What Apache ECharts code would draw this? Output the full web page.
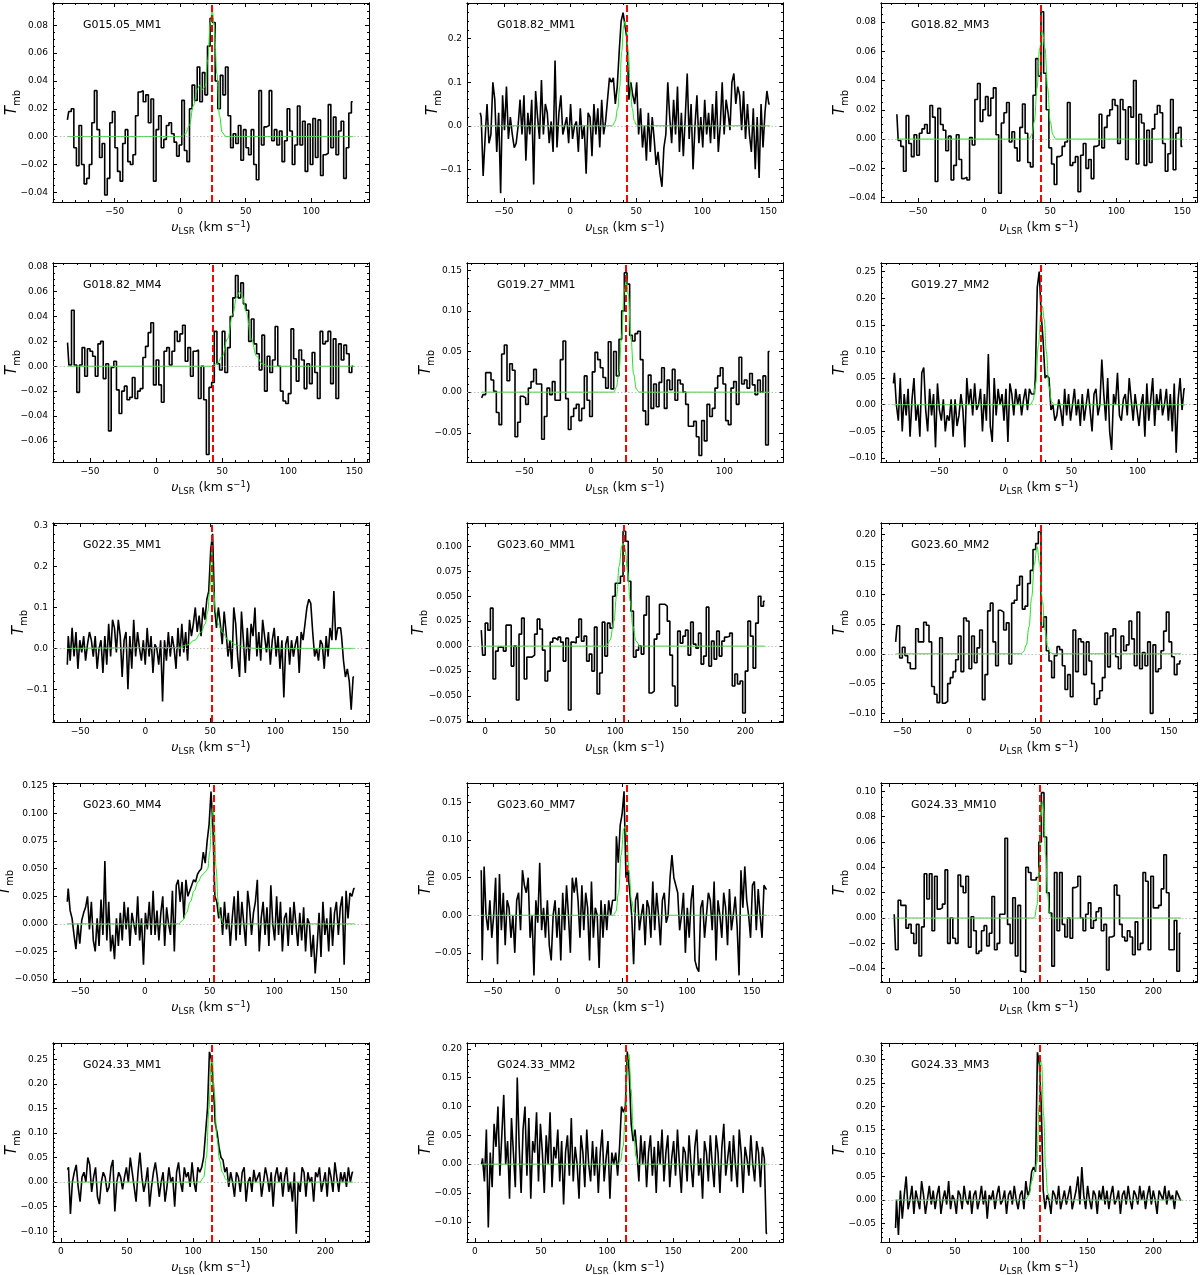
<!DOCTYPE html>
<html><head><meta charset="utf-8">
<script src="https://cdn.jsdelivr.net/npm/echarts@6/dist/echarts.min.js"></script>
<style>html,body{margin:0;padding:0;background:#fff}#c{width:1200px;height:1275px}</style>
</head><body><div id="c"></div><script>
// ---------- data ----------
const names = ['G015.05_MM1','G018.82_MM1','G018.82_MM3','G018.82_MM4','G019.27_MM1','G019.27_MM2',
  'G022.35_MM1','G023.60_MM1','G023.60_MM2','G023.60_MM4','G023.60_MM7','G024.33_MM10',
  'G024.33_MM1','G024.33_MM2','G024.33_MM3'];
// first channel velocity and channel width (km/s)
const vStart = [-86,-68,-66,-67,-82,-84.6,-60,-3,-55,-60,-59,4,5,5,5];
const dV = [1.96,1.47,2,2,2,1.48,1.48,2,2,1.49,1.48,1.97,1.46,1.46,1.46];
const vSys = [24.4,42.5,42.5,42.5,26,26.5,51,106.5,53.5,53,53,114,114,114,114];

const T1 = [.012,.018,.02,-.008,-.021,.008,-.02,-.034,-.03,-.02, .01,.033,.005,-.015,-.005,-.042,-.03,.01,.018,-.008,
 -.025,-.032,-.005,.005,-.018,-.02,-.013,.015,.032,.033, .025,.03,.01,.027,-.032,.005,.015,-.008,-.002,.008,
 .01,.002,-.004,-.014,-.006,.026,-.01,-.018,.02,.037, .026,.05,.025,.046,.03,.065,.085,.082,.04,.02,
 .044,.03,.05,.015,-.008,.002,-.005,.008,-.017,.005, -.008,-.013,.005,-.02,-.031,.033,-.006,.007,.008,.033,
 -.003,.005,-.006,.004,-.018,-.003,.02,.004,-.02,-.006, .022,-.006,.011,-.025,.009,-.02,.013,-.015,.012,-.028,
 -.013,-.012,.023,-.008,.014,-.013,.004,.011,-.03,-.008, .017,.025];
const T2 = [.03,.02,-.115,-.03,.05,-.04,-.02,.1,.06,-.06, .03,-.155,.07,-.01,.09,-.03,.02,-.02,-.05,-.04,
 .0,.06,-.02,.07,-.08,.03,-.02,.06,-.135,.08, .02,-.03,.105,-.02,.05,.03,-.04,.01,-.06,.15,
 -.05,.03,.07,-.02,.0,.02,-.04,.05,-.03,.0, .01,-.06,.04,-.03,.0,-.11,.03,.02,-.07,.05,
 -.02,.04,-.05,.06,-.02,.01,.06,.11,.1,.11, .05,.09,.17,.24,.26,.23,.2,.06,.1,.07,
 .05,.1,-.02,.04,-.05,.0,-.08,.03,-.06,.02, -.03,-.09,-.06,-.11,-.14,-.05,-.02,.1,.02,-.04,
 .06,-.02,.09,-.06,.03,-.07,.02,.12,-.03,.05, -.1,.0,.07,-.04,.02,-.05,.06,-.02,.03,-.04,
 .05,-.03,.08,-.06,.0,.1,-.02,.06,.03,-.01, .1,.12,.05,.09,.07,-.01,.08,-.03,.05,-.02,
 -.06,.04,-.1,.02,-.12,.05,-.05,.03,.08,.05];
const T3 = [.017,-.001,-.005,-.022,.016,-.003,-.012,.003,-.011,.004, .007,.01,.004,.023,.015,-.029,.021,.01,.006,-.008,
 .002,-.028,-.018,.003,-.014,-.027,-.026,-.028,.001,-.004, .027,.038,.012,.02,.029,.016,.028,.035,.003,-.037,
 .011,.018,.025,-.002,.005,-.006,-.015,.008,.024,.004, -.016,-.019,.03,.055,.043,.087,.045,.02,-.006,-.017,
 -.031,-.012,-.011,-.005,-.002,.025,-.018,-.016,-.012,-.036, -.011,-.003,-.02,-.014,-.027,-.005,-.004,.017,-.006,.008,
 .016,.02,.027,.023,-.003,.027,.02,-.014,.022,.015, .04,-.017,.017,.011,-.018,.006,-.016,.007,.017,.023,
 .018,-.003,-.022,-.01,.027,-.021,.004,.008,-.005];
const T4 = [.019,.001,.045,.001,-.021,.001,.015,-.008,.014,.012, .008,-.008,.018,.02,-.01,.002,-.052,-.001,.004,-.019,
 -.038,-.02,-.016,-.027,-.025,-.009,-.026,-.02,-.018,.007, .016,.027,.035,-.015,.005,-.015,-.029,.012,.015,.001,
 .012,.028,.02,.026,.033,.004,.015,-.008,.012,.013, -.026,.0,-.027,-.071,-.017,-.013,.028,.002,-.003,.028,
 -.005,.015,.04,.055,.073,.055,.067,.05,.045,.02, .038,.018,.01,-.003,.025,-.02,.008,-.005,.005,.032,
 .0,-.02,-.028,-.03,-.022,.03,.006,-.012,.013,.005, -.018,.002,-.014,.011,-.005,-.026,.028,.018,.02,.028,
 -.014,.022,-.026,.018,.005,.017,.01,-.005,.0];
const T5 = [-.007,-.003,.024,.024,.015,.001,-.025,-.04,.047,.058, .014,.035,.027,-.055,-.037,-.005,-.007,-.015,.005,.013,
 .028,.01,.01,-.058,-.03,.005,-.003,.013,-.01,-.01, .04,.063,-.008,-.046,-.03,-.02,-.015,-.035,-.02,.02,
 -.01,-.03,.025,.049,.04,.03,.018,.005,.062,.004, .05,.02,.065,.1,.147,.133,.07,.063,.072,.075,
 .04,-.023,-.04,.021,-.02,.01,-.018,.012,.03,-.02, .015,.003,.028,-.01,.015,.01,.0,-.015,-.042,-.042,
 -.036,-.055,-.078,-.035,-.06,-.015,-.03,-.02,.005,.02, .03,.01,-.035,-.04,.005,.013,-.015,.043,.01,.015,
 .005,.023,.009,-.003,.015,.0,.02,-.065,.05];
const T6 = [.04,.06,.0,-.03,.05,-.05,.02,-.02,.03,-.06, .01,.05,-.03,.0,-.06,.06,.07,-.01,-.05,.03,
 -.02,.02,-.08,.04,-.01,-.03,.01,-.05,-.02,-.03, .01,-.06,.01,-.04,-.02,.02,-.01,-.08,.05,.0,
 .03,-.02,.04,-.01,.0,.03,-.05,.02,-.03,.095, -.04,-.07,.05,-.02,.03,.0,.02,-.03,.03,-.07,
 .04,.02,-.02,.03,.0,.02,-.02,.01,.03,-.01, .03,.02,.02,.05,.22,.25,.17,.12,.05,.055,
 .05,-.01,.0,-.03,-.02,.01,-.01,-.04,.03,-.02, .02,-.03,.0,.03,-.02,.01,-.04,.02,-.03,.0,
 .03,-.01,-.05,.02,.03,-.02,.0,.085,.02,-.03, .05,-.05,-.085,.02,.0,.06,-.02,-.03,.01,.02,
 -.02,.05,.01,-.03,.02,-.01,-.04,.0,.02,-.06, .04,-.03,.01,.05,-.04,.02,-.01,.03,-.02,.0,
 .03,-.03,.02,-.05,.04,-.09,.01,.05,-.01,.03];
const T7 = [-.04,.03,-.03,.05,-.02,.04,-.05,.02,-.01,.03, -.03,.01,.04,.02,-.02,.03,-.05,.0,.02,-.06,
 .03,-.04,.06,-.02,.07,.05,-.01,.07,.03,-.07, .02,.04,-.1,.03,-.05,.07,-.02,.04,.0,-.03,
 .02,-.04,.05,-.02,.03,-.06,.01,.0,-.04,.02, -.13,.02,-.03,.04,-.02,.03,.0,-.05,.05,-.02,
 .06,-.01,.04,-.03,.07,.03,.06,.1,.04,.08, .03,.1,.07,.12,.14,.24,.28,.1,.05,.1,
 .06,.01,.09,.04,-.02,.02,-.05,.1,.06,-.02, -.07,.09,.02,-.06,.05,-.03,.06,.03,.1,-.02,
 .04,-.03,.07,.03,-.01,.04,-.04,.02,.05,-.02, .03,-.05,.02,-.12,.01,.03,-.04,.02,-.02,.01,
 .03,-.06,.04,.02,.06,.1,.12,.11,.04,-.02, .0,-.03,.02,.01,-.05,.03,-.02,.05,.02,.14,
 .02,.05,.05,.03,-.03,-.07,-.05,-.08,-.15,-.07];
const T8 = [.016,-.009,.023,.016,.038,-.033,-.005,-.001,-.001,-.005, .021,.021,-.02,.0,-.054,.012,.028,-.033,-.011,-.011,
 -.009,.012,.027,.017,-.004,-.035,-.025,.004,.008,.006, .009,.004,-.015,.008,-.064,.004,.003,.009,.027,.005,
 .01,-.015,-.008,-.025,.019,-.048,-.027,.024,-.01,.023, .018,.05,.063,.063,.07,.115,.105,.065,.035,-.011,
 -.004,.0,-.008,.031,.05,-.047,-.045,.007,.012,.042, .042,.04,.025,-.009,-.04,-.06,.015,.003,.01,.016,
 -.009,.024,.002,-.002,.013,-.018,-.01,.039,-.02,.005, -.013,.015,-.01,.005,.009,.01,.013,-.04,-.028,-.038,
 -.035,-.067,-.025,.025,.01,-.022,.023,.05,.04,.045];
const T9 = [.02,.047,-.007,.011,-.003,-.015,-.025,-.025,.042,.02, .02,.053,.048,.02,-.055,-.068,-.082,.027,-.083,-.08,
 -.05,-.04,-.03,-.01,.03,-.03,.06,.055,-.025,.03, -.015,.01,.04,-.077,-.035,.072,.085,.02,-.02,.073,
 .07,.04,.052,-.017,.085,.09,.115,.13,.075,.08, .118,.14,.175,.185,.205,.045,.062,.005,-.012,-.04,
 -.003,.012,.007,-.02,-.06,-.035,-.072,.04,-.03,.025, .02,-.035,.02,-.012,-.05,-.085,-.075,-.062,-.04,.035,
 -.022,.03,.042,-.005,-.025,.03,.005,.015,.055,.025, -.02,.07,-.025,.002,-.02,.02,-.1,.015,-.03,-.025,
 .005,.038,.07,.02,-.005,-.035,-.017,-.012];
const T10 = [.02,.032,.012,.005,-.01,-.023,.0,-.018,.003,.01, .015,.025,-.005,.02,-.015,-.025,.005,-.02,.022,-.01,
 .057,-.015,.02,-.025,-.01,-.032,.005,-.02,.01,-.015, .02,-.005,.015,-.02,.01,.0,-.01,.025,-.015,.005,
 -.037,.01,-.005,.02,-.01,.03,-.01,.012,-.015,.01, .025,-.02,.015,.0,-.01,.03,-.025,.035,.04,.02,
 .038,.005,.04,.025,.03,.035,.04,.038,.045,.048, .05,.065,.055,.075,.09,.12,.088,.025,.02,.005,
 .015,-.01,.02,-.005,.01,-.02,.005,.025,-.015,.03, -.01,.02,.0,-.02,.03,.015,-.01,.01,.02,.04,
 -.025,.005,.02,-.01,.015,-.02,.035,.0,-.015,.025, -.01,.02,-.025,.005,.01,-.02,.015,-.01,.02,.0,
 -.02,.01,-.015,.015,-.025,.005,.0,-.03,-.01,-.045, -.02,.01,-.03,.02,-.01,.005,-.025,.015,-.02,.01,
 .02,-.01,.015,.025,-.037,.03,.005,.028,.025,.032];
const T11 = [.06,-.06,.065,.0,-.02,.02,-.03,.0,.05,-.065, .055,-.02,.03,-.04,.02,.01,-.03,.0,-.05,.02,
 .03,-.02,.06,.04,.03,.05,-.03,.0,-.08,.02, -.01,.07,-.02,.01,-.03,.02,-.04,-.06,.0,.02,
 -.03,.01,-.06,.03,-.02,.04,.0,-.05,.05,.03, .05,.02,-.03,.04,-.02,.03,.01,-.06,.045,-.03,
 .01,.0,-.07,.02,-.03,.015,-.02,.02,.0,.02, .02,.105,.07,.12,.135,.165,.05,.06,.03,.0,
 -.065,.02,.03,-.02,.0,.015,-.04,.02,.01,-.03, .045,-.02,.03,.0,-.04,.02,.03,-.01,.0,.05,
 .08,.05,.04,.03,-.02,.0,.03,-.05,.01,-.03, .02,.04,-.06,-.07,-.075,.01,.02,-.03,.0,.03,
 .02,-.02,.045,-.06,.02,.0,-.03,.03,.01,-.04, .035,-.02,.0,.025,-.015,-.08,.06,.01,.065,.02,
 .0,-.03,.04,.045,-.02,.035,.0,-.03,.04,.035];
const T12 = [.003,-.025,.014,.01,.01,-.008,-.005,-.012,-.02,-.005, -.03,-.007,.035,.015,.035,-.01,.033,.007,.008,.011,
 .038,-.02,.0,-.016,-.02,.034,.025,.02,.033,-.023, .001,-.01,-.028,-.026,-.01,-.006,-.022,-.012,.017,-.025,
 -.02,.003,.003,.063,-.005,-.02,.016,-.03,.01,-.042, -.043,.04,.036,.03,.03,.032,.06,.099,.064,.02,
 .004,-.038,.036,-.01,.036,-.005,-.015,.0,-.016,.024, .025,.033,.0,-.01,.003,.012,-.008,-.002,.005,.008,
 -.01,-.005,-.041,-.015,-.014,.026,.018,-.005,-.015,-.018, -.01,-.015,-.029,-.003,-.025,-.02,.036,.029,-.025,.033,
 .008,.008,.01,.023,.05,.02,-.025,-.025,-.002,-.042,-.012];
const T13 = [.025,.03,-.065,.0,.02,.035,-.01,-.04,.01,.02, .0,.05,.035,-.02,.01,.03,-.03,-.045,.0,.02,
 .01,-.02,-.01,.03,.045,-.06,.0,.02,.01,-.015, .01,.03,.0,.05,.02,-.01,-.04,.02,.06,.01,
 -.02,.0,.03,-.05,-.01,.02,.04,.01,-.03,.0, .02,-.04,-.01,.03,.0,.01,-.05,.02,.04,.0,
 -.02,.03,.01,.02,-.01,.04,.0,-.02,.03,.02, .03,.05,.1,.15,.265,.25,.2,.12,.1,.07,
 .05,.045,.02,.03,-.01,.02,.0,-.03,.02,.01, -.02,.02,.03,-.04,.0,.01,-.02,.025,.0,.01,
 .02,-.03,.0,.03,.01,-.02,.02,-.05,.01,.03, .0,.02,-.03,.01,.03,-.02,.0,-.04,.02,-.105,
 .0,-.02,.03,.02,-.03,.02,.0,.01,-.04,.02, .01,.03,-.02,.0,.02,-.03,.03,.01,-.02,.04,
 .01,-.02,.02,.0,.02,-.01,.03,.0,.02];
const T14 = [.0,.01,-.03,.06,-.11,.02,-.04,.07,.03,.1, -.02,.05,.12,.0,.04,-.06,.08,.02,-.04,.15,
 .03,-.05,.06,.1,-.02,.08,-.06,.04,.02,.09, -.03,.07,.02,-.05,.05,.0,.09,-.04,.03,.01,
 .06,-.03,.04,-.07,.02,.05,-.02,.08,-.03,.03, .0,-.06,.05,.02,-.04,.06,.0,-.03,.04,-.02,
 .03,-.05,.02,.06,-.03,.01,.04,-.06,.02,.0, .02,-.02,.03,.1,.09,.1,.195,.16,.07,.04,
 .06,.02,-.03,.05,.0,.04,-.04,.02,.05,-.02, .03,-.05,.04,.0,.06,-.03,.02,.05,-.04,.01,
 .04,-.02,.06,.0,-.05,.03,.02,-.03,.05,.0, -.04,.03,.06,-.02,.01,-.06,.04,.02,-.03,.05,
 .0,-.04,.05,.02,-.05,.03,.07,-.02,.01,.04, -.03,.05,.0,-.04,.06,.02,-.05,.03,.01,-.02,
 .05,.0,-.03,.04,.02,-.04,.03,.01,-.12];
const T15 = [-.06,.0,-.075,.02,-.04,.01,.05,-.02,.0,.03, -.03,.02,.0,-.02,.04,.01,-.03,.0,.03,-.01,
 .02,-.02,.01,.03,-.03,.0,.02,-.01,.04,-.02, .01,.0,-.03,.02,.01,-.02,.03,.0,-.01,.02,
 -.03,.01,.02,-.02,.0,.03,-.01,.02,-.04,.01, .0,.02,-.02,.01,.03,-.01,.0,.02,-.03,.01,
 .02,-.01,.03,.0,-.02,.01,.02,-.02,.04,.01, .02,.06,.07,.06,.315,.29,.2,.02,-.02,.01,
 .0,-.03,.02,.01,-.01,.03,-.02,.0,.02,-.01, .01,.03,-.02,.0,.02,.05,-.01,.07,.01,-.02,
 .03,.0,-.02,.02,.01,-.03,.02,.0,.03,-.01, .02,-.02,.01,.03,-.01,.0,.02,-.03,.01,.02,
 -.01,.03,.0,-.02,.02,.01,-.01,.03,.0,.02, -.02,.01,.03,-.01,.02,.0,-.03,.02,.01,.0,
 .03,-.01,.02,.0,.01,-.02,.02,.01,.0];

// Gaussian-fit curves (green): [v, T]
const fit1 = [[-86,0],[0,0],[4,.002],[7,.008],[10,.022],[13,.034],[15,.037],[17,.034],[19,.036],[21,.055],[23,.082],[24.5,.09],[26,.08],[28,.045],[30,.015],[32,.003],[35,0],[132,0]];
const fit2 = [[-68,0],[32,0],[34,.01],[36,.04],[37.5,.09],[39,.17],[40.5,.23],[41.5,.24],[42.5,.225],[44,.17],[45.5,.09],[47,.04],[48.5,.012],[50,.002],[52,0],[151,0]];
const fit3 = [[-66,0],[34,0],[36,.003],[38,.012],[40,.035],[42,.062],[44,.074],[46,.062],[48,.035],[50,.012],[52,.003],[54,0],[150,0]];
const fit4 = [[-67,0],[42,0],[46,.002],[50,.008],[54,.022],[58,.042],[61,.056],[63,.06],[65,.057],[68,.044],[72,.022],[76,.008],[80,.002],[85,0],[150,0]];
const fit5 = [[-82,0],[17,0],[19,.006],[21,.025],[23,.07],[25,.125],[26.5,.14],[28,.12],[30,.065],[32,.022],[34,.004],[36,0],[134,0]];
const fit6 = [[-84.6,0],[19,0],[21,.008],[23,.04],[25,.11],[27,.175],[28,.185],[29.5,.16],[31,.1],[33,.035],[35,.006],[37,0],[136,0]];
const fit7 = [[-60,0],[25,.002],[32,.008],[38,.02],[43,.04],[46,.06],[48,.09],[49.5,.14],[50.5,.21],[51,.24],[51.5,.21],[52.5,.14],[54,.09],[56,.06],[59,.04],[64,.02],[70,.008],[77,.002],[85,0],[160.5,0]];
const fit8 = [[-3,0],[93,0],[96,.006],[99,.025],[101,.05],[103,.08],[105,.1],[106,.103],[107.5,.098],[109.5,.075],[111.5,.045],[113.5,.02],[116,.005],[119,0],[215,0]];
const fit9 = [[-55,0],[39,0],[41,.004],[43,.015],[45,.045],[47,.095],[49,.15],[51,.18],[53,.15],[55,.09],[57,.04],[59,.012],[61,.002],[63,0],[159,0]];
const fit10 = [[-60,0],[26,0],[29,.003],[32,.01],[35,.02],[38,.03],[41,.038],[44,.044],[46.5,.047],[48.5,.05],[50,.065],[51.5,.095],[52.5,.105],[53.5,.09],[55,.05],[56.5,.02],[58,.006],[61,0],[162,0]];
const fit11 = [[-59,0],[43,0],[45,.005],[47,.03],[49,.08],[51,.115],[52,.118],[53.5,.105],[55,.06],[57,.02],[59,.004],[61,0],[161.5,0]];
const fit12 = [[4,0],[110,0],[112,.01],[113.5,.04],[115,.08],[116,.092],[117,.085],[118.5,.05],[120,.018],[121.5,.004],[123,0],[221,0]];
const fit13 = [[5,0],[105,0],[108,.01],[110,.05],[112,.15],[113.5,.24],[114.5,.25],[116,.18],[118,.09],[120,.045],[122,.02],[125,.005],[128,0],[221,0]];
const fit14 = [[5,0],[108,0],[110,.005],[112,.03],[114,.1],[115.5,.18],[116.5,.19],[118,.13],[120,.05],[122,.012],[124,0],[221,0]];
const fit15 = [[5,0],[103,0],[106,.01],[108,.04],[110,.06],[112,.08],[113.5,.2],[114.5,.3],[115.5,.29],[117,.18],[118.5,.07],[120,.015],[122,0],[221,0]];

// axis limits and ticks
const xMin = [-97,-78,-78,-78,-93,-94,-71,-14,-66,-71,-70,-6,-6,-6,-6];
const xMax = [144,161,161,161,144,145,172,229,171,173,174,233,233,233,233];
const yMin = [-.047,-.175,-.043,-.077,-.086,-.1075,-.18,-.076,-.1145,-.0527,-.0888,-.0505,-.122,-.135,-.09];
const yMax = [.096,.282,.093,.083,.159,.266,.3065,.1233,.2196,.1277,.176,.1066,.283,.21,.335];
const xTicks = [[-50,0,50,100],[-50,0,50,100,150],[-50,0,50,100,150],[-50,0,50,100,150],[-50,0,50,100],[-50,0,50,100],
  [-50,0,50,100,150],[0,50,100,150,200],[-50,0,50,100,150],[-50,0,50,100,150],[-50,0,50,100,150],
  [0,50,100,150,200],[0,50,100,150,200],[0,50,100,150,200],[0,50,100,150,200]];
const yTicks = [[-.04,-.02,0,.02,.04,.06,.08],[-.1,0,.1,.2],[-.04,-.02,0,.02,.04,.06,.08],[-.06,-.04,-.02,0,.02,.04,.06,.08],
  [-.05,0,.05,.1,.15],[-.1,-.05,0,.05,.1,.15,.2,.25],[-.1,0,.1,.2,.3],[-.075,-.05,-.025,0,.025,.05,.075,.1],
  [-.1,-.05,0,.05,.1,.15,.2],[-.05,-.025,0,.025,.05,.075,.1,.125],[-.05,0,.05,.1,.15],[-.04,-.02,0,.02,.04,.06,.08,.1],
  [-.1,-.05,0,.05,.1,.15,.2,.25],[-.1,-.05,0,.05,.1,.15,.2],[-.05,0,.05,.1,.15,.2,.25,.3]];
const yDec = [2,1,2,2,2,2,1,3,2,3,2,2,2,2,2];

const spectra = [T1,T2,T3,T4,T5,T6,T7,T8,T9,T10,T11,T12,T13,T14,T15];
const fits = [fit1,fit2,fit3,fit4,fit5,fit6,fit7,fit8,fit9,fit10,fit11,fit12,fit13,fit14,fit15];

// ---------- layout ----------
const colLeft = [53,467,881], rowTop = [3,263,523,783,1043], W = 316, H = 199;
const FONT = '"DejaVu Sans", sans-serif';
const fmt = (v, d) => v.toFixed(d).replace('-', '\u2212');

function minorOf(majors, lo, hi, ndiv) {
  const step = (majors[1] - majors[0]) / ndiv, out = [];
  for (let k = Math.ceil(lo / step - 1e-9); k * step <= hi + 1e-12; k++) {
    const v = +(k * step).toFixed(10);
    if (!majors.some(m => Math.abs(m - v) < step * 1e-3)) out.push(v);
  }
  return out;
}
function yDiv(step) {
  const m = step / Math.pow(10, Math.floor(Math.log10(step) + 1e-9));
  return (Math.abs(m - 1) < 1e-6 || Math.abs(m - 5) < 1e-6) ? 5 : 4;
}

const grid = [], xAxis = [], yAxis = [], series = [], graphic = [];
const lineSt = {color: '#000', width: 1};

function mkAxis(type, i, pos, ticks, len, label, dec) {
  const a = {
    type: 'value', gridIndex: i, position: pos,
    min: type === 'x' ? xMin[i] : yMin[i], max: type === 'x' ? xMax[i] : yMax[i],
    axisLine: {show: true, onZero: false, lineStyle: lineSt},
    axisTick: {show: true, inside: true, length: len, customValues: ticks, lineStyle: lineSt},
    splitLine: {show: false}, minorTick: {show: false},
    axisLabel: {show: false}
  };
  if (label) a.axisLabel = {show: true, customValues: ticks, color: '#000', fontSize: 9,
    fontFamily: FONT, margin: 5, formatter: v => fmt(v, dec)};
  return a;
}

for (let i = 0; i < 15; i++) {
  const L = colLeft[i % 3], Tp = rowTop[Math.floor(i / 3)];
  grid.push({left: L, top: Tp, width: W, height: H, containLabel: false});
  const xm = minorOf(xTicks[i], xMin[i], xMax[i], 5);
  const ys = yTicks[i][1] - yTicks[i][0];
  const ym = minorOf(yTicks[i], yMin[i], yMax[i], yDiv(ys));
  xAxis.push(mkAxis('x', i, 'bottom', xTicks[i], 4, true, 0));
  xAxis.push(mkAxis('x', i, 'bottom', xm, 2, false));
  xAxis.push(mkAxis('x', i, 'top', xTicks[i], 4, false));
  xAxis.push(mkAxis('x', i, 'top', xm, 2, false));
  yAxis.push(mkAxis('y', i, 'left', yTicks[i], 4, true, yDec[i]));
  yAxis.push(mkAxis('y', i, 'left', ym, 2, false));
  yAxis.push(mkAxis('y', i, 'right', yTicks[i], 4, false));
  yAxis.push(mkAxis('y', i, 'right', ym, 2, false));

  const ax = {xAxisIndex: i * 4, yAxisIndex: i * 4};
  series.push(Object.assign({type: 'line', data: [], symbol: 'none', silent: true, z: 1,
    markLine: {silent: true, symbol: 'none', animation: false, label: {show: false},
      lineStyle: {color: '#b0b0b0', type: [1.5, 2], width: 0.8}, data: [{yAxis: 0}]}}, ax));
  series.push(Object.assign({type: 'line', step: 'middle', symbol: 'none', silent: true, z: 3,
    lineStyle: {color: '#000', width: 1.6},
    data: spectra[i].map((t, k) => [vStart[i] + k * dV[i], t])}, ax));
  series.push(Object.assign({type: 'line', symbol: 'none', silent: true, z: 4, smooth: 0.4, smoothMonotone: 'x',
    lineStyle: {color: '#22e022', width: 1}, data: fits[i]}, ax));
  series.push(Object.assign({type: 'line', data: [], symbol: 'none', silent: true, z: 5,
    markLine: {silent: true, symbol: 'none', animation: false, label: {show: false},
      lineStyle: {color: '#ff0000', type: [7, 3], width: 2}, data: [{xAxis: vSys[i]}]}}, ax));

  // panel name
  graphic.push({type: 'text', x: L + 30, y: Tp + 22, silent: true,
    style: {text: names[i], fill: '#000', font: '11px ' + FONT, align: 'left', verticalAlign: 'middle'}});
  // x label
  graphic.push({type: 'text', x: L + W / 2, y: Tp + H + 26, silent: true,
    style: {text: '{u|\u03c5}{s|LSR}{n| (km s}{p|\u22121}{n|)}', align: 'center', verticalAlign: 'middle',
      rich: {
        n: {fontSize: 12.5, fontFamily: FONT, lineHeight: 16, fill: '#000'},
        u: {fontSize: 12.5, fontFamily: FONT, fontStyle: 'italic', lineHeight: 16, fill: '#000'},
        s: {fontSize: 8.5, fontFamily: FONT, lineHeight: 16, verticalAlign: 'bottom', fill: '#000'},
        p: {fontSize: 8.5, fontFamily: FONT, lineHeight: 16, verticalAlign: 'top', fill: '#000'}
      }}});
  // y label
  const maxLen = Math.max(...yTicks[i].map(v => fmt(v, yDec[i]).length));
  const gap = 6 + 7 * maxLen;
  graphic.push({type: 'text', x: L - gap, y: Tp + H / 2, rotation: Math.PI / 2, silent: true,
    style: {text: '{t|T}{m|mb}', align: 'center', verticalAlign: 'middle',
      rich: {
        t: {fontSize: 15, fontFamily: FONT, fontStyle: 'italic', lineHeight: 20, fill: '#000'},
        m: {fontSize: 10, fontFamily: FONT, lineHeight: 20, verticalAlign: 'bottom', fill: '#000'}
      }}});
}

const chart = echarts.init(document.getElementById('c'), null, {renderer: 'canvas'});
chart.setOption({animation: false, backgroundColor: '#fff', grid, xAxis, yAxis, series, graphic});
</script></body></html>
